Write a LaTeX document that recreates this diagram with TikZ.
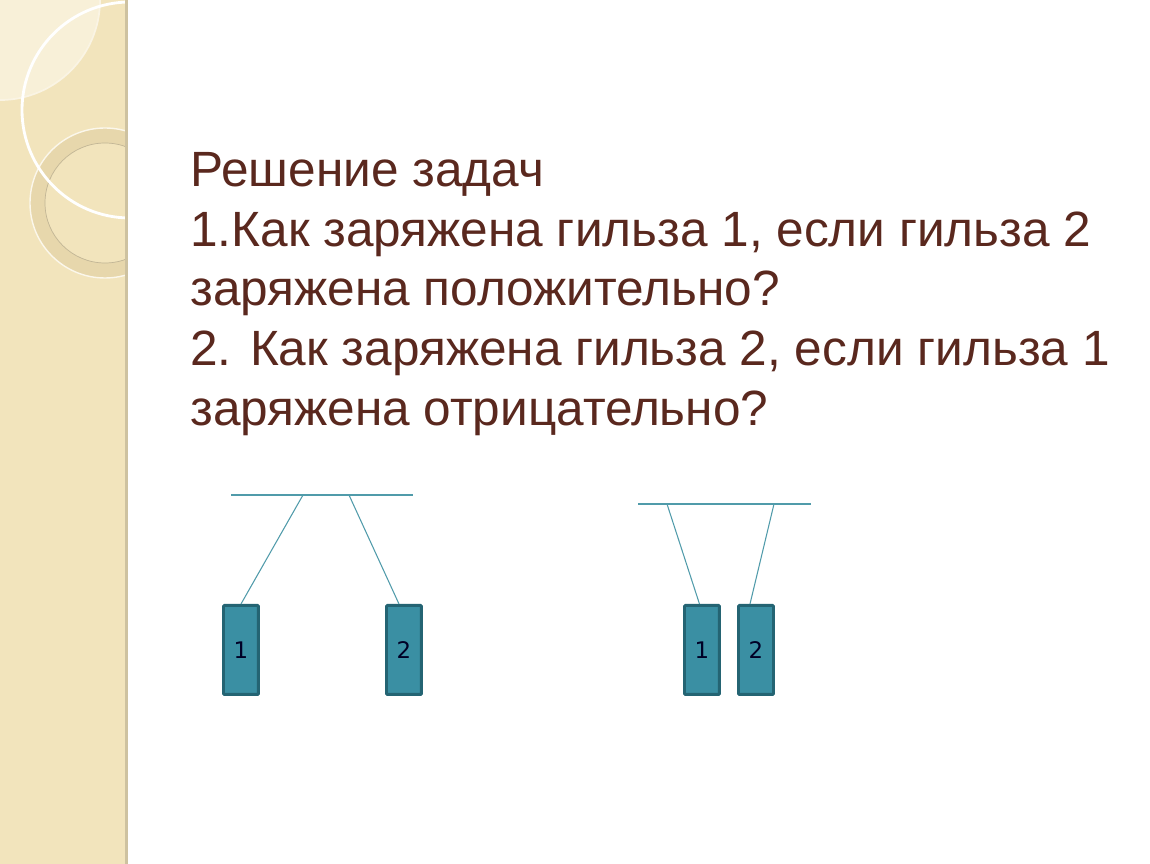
\documentclass[tikz,border=0pt]{standalone}
\usepackage{fontspec}
\setmainfont{Liberation Sans}
\newfontfamily\digitfont{DejaVu Sans}
\definecolor{panel}{RGB}{242,228,188}
\definecolor{panellight}{RGB}{248,240,216}
\definecolor{panelring}{RGB}{231,215,172}
\definecolor{ink}{RGB}{90,40,30}
\definecolor{rod}{RGB}{80,155,170}
\definecolor{shell}{RGB}{58,143,163}
\definecolor{shelledge}{RGB}{36,100,115}
\tikzset{
  shellbox/.style={draw=shelledge,fill=shell,line width=1.7pt,rounded corners=0.5pt,
    minimum width=0.7cm,minimum height=1.78cm,inner sep=0pt,
    font=\digitfont\fontsize{13}{14}\selectfont,text=black!85!blue},
  thread/.style={draw=rod,line width=0.6pt}
}
\begin{document}
\begin{tikzpicture}[x=0.02cm,y=-0.02cm]
\useasboundingbox (0,0) rectangle (1150,864);
\fill[white] (0,0) rectangle (1150,864);
\fill[panel] (0,0) rectangle (127,864);
\begin{scope}
  \clip (0,0) rectangle (127,864);
  \fill[panellight] (0,0) -- (100,0) arc (0:90:100) -- cycle;
  \draw[white!60!panel,line width=1pt] (100,0) arc (0:90:100);
  \fill[panelring,even odd rule] (105,203) circle (75) (105,203) circle (60);
  \draw[white!70!panel,line width=0.8pt] (105,203) circle (75);
  \draw[panel!80!black,line width=0.4pt] (105,203) circle (60);
  \draw[white,line width=1.6pt] (130,110) circle (108);
\end{scope}
\fill[panel!85!black] (125,0) rectangle (128,864);
\node[anchor=north west,align=left,text=ink,inner sep=0pt,
  font=\fontsize{28.2}{34}\selectfont] (task) at (190,152)
  {Решение задач\\
   1.Как заряжена гильза 1, если гильза 2\\
   заряжена положительно?\\
   2. Как заряжена гильза 2, если гильза 1\\
   заряжена отрицательно?};
\coordinate (barAl) at (231,495);
\coordinate (barAr) at (413,495);
\coordinate (hookA1) at (303,495);
\coordinate (hookA2) at (349,495);
\node[shellbox,anchor=north west] (shellA1) at (222,604) {1};
\node[shellbox,anchor=north west] (shellA2) at (385,604) {2};
\draw[thread] (barAl) -- (barAr);
\draw[thread] (hookA1) -- (shellA1.north);
\draw[thread] (hookA2) -- ([xshift=-0.1cm]shellA2.north);
\coordinate (barBl) at (638,504);
\coordinate (barBr) at (811,504);
\coordinate (hookB1) at (667,504);
\coordinate (hookB2) at (774,504);
\node[shellbox,anchor=north west] (shellB1) at (683,604) {1};
\node[shellbox,anchor=north west] (shellB2) at (737,604) {2};
\draw[thread] (barBl) -- (barBr);
\draw[thread] (hookB1) -- ([xshift=-0.05cm]shellB1.north);
\draw[thread] (hookB2) -- ([xshift=-0.12cm]shellB2.north);
\end{tikzpicture}
\end{document}
